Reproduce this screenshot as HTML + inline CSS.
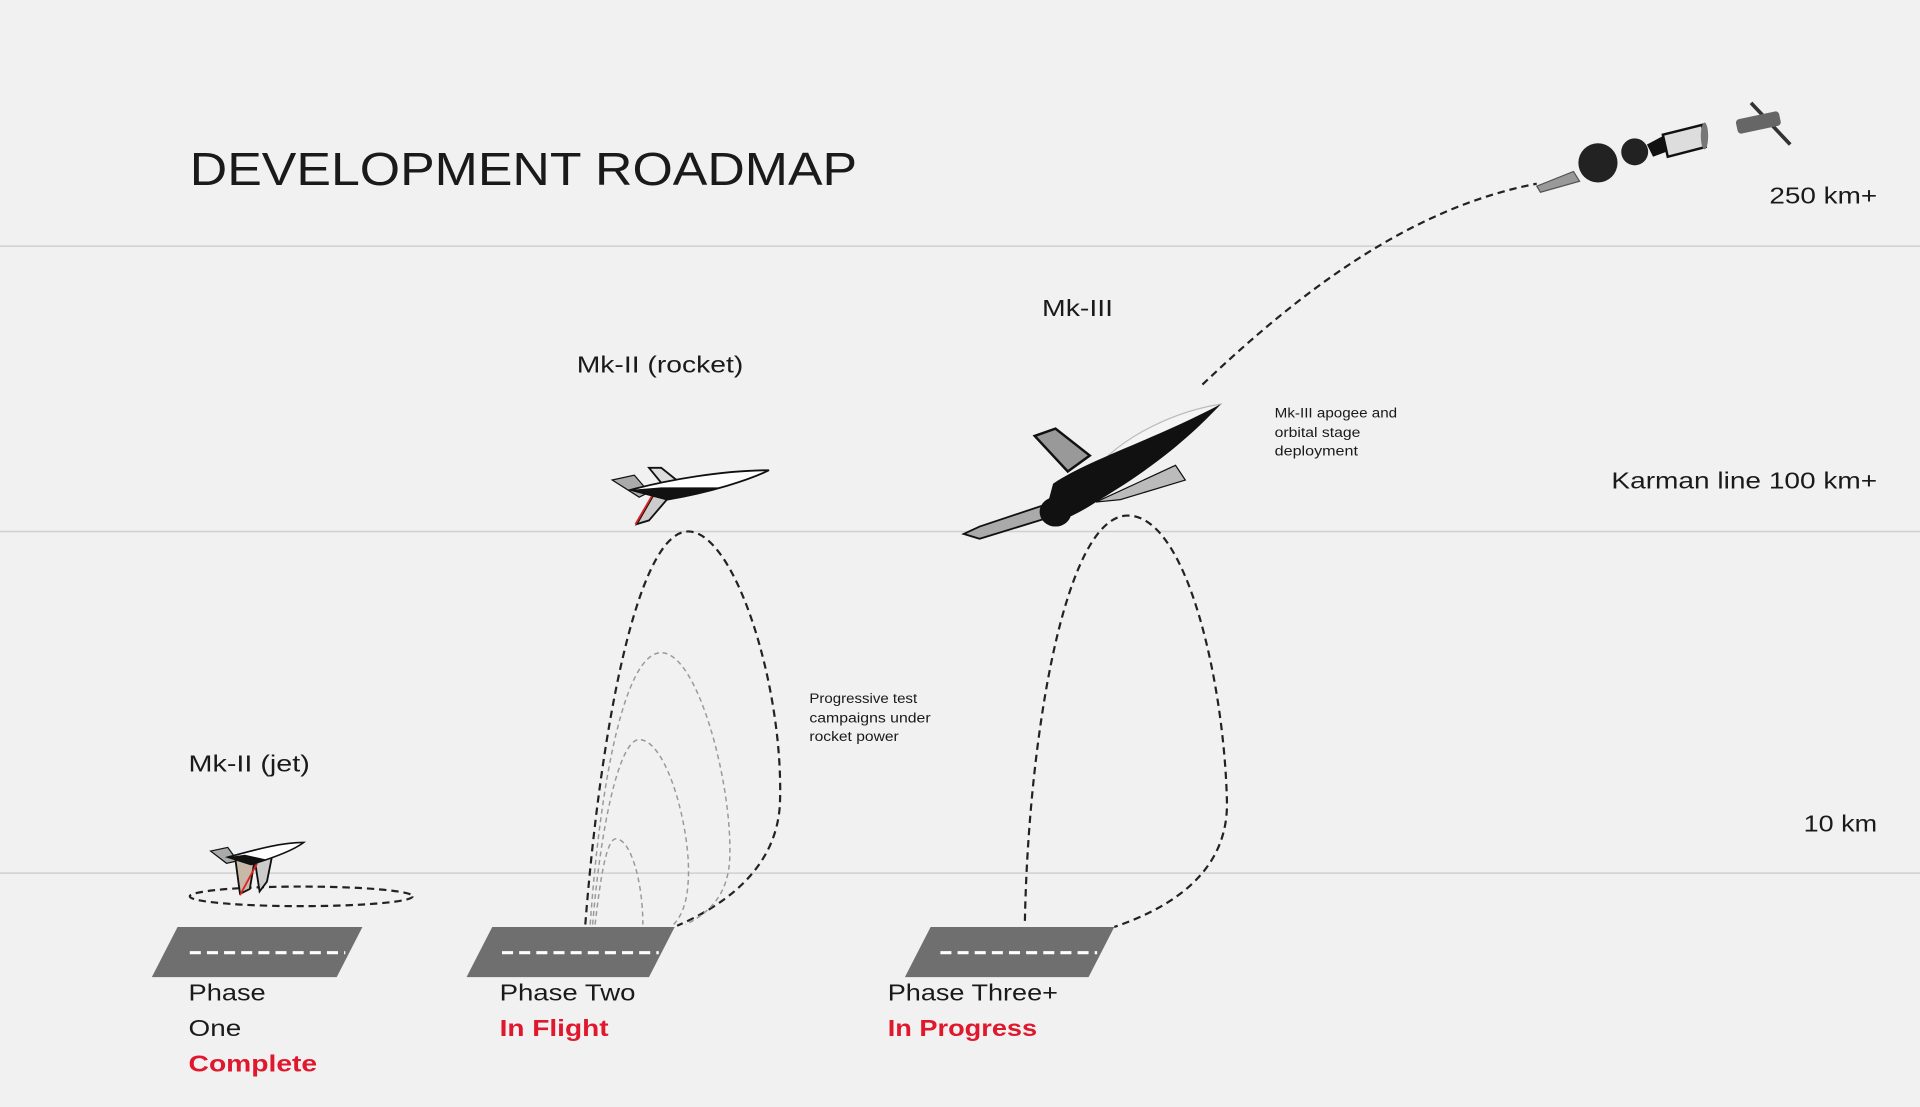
<!DOCTYPE html>
<html><head><meta charset="utf-8"><style>
html,body{margin:0;padding:0;background:#f0f1f0;}
svg{display:block}
text{font-family:"Liberation Sans",sans-serif;fill:#1a1a1a}
</style></head><body>
<svg width="1920" height="1107" viewBox="0 0 1568 904" xmlns="http://www.w3.org/2000/svg">
<rect width="1568" height="904" fill="#f0f1f0"/>
<g stroke="#cfd0cf" stroke-width="1.2">
<line x1="0" y1="201" x2="1568" y2="201"/>
<line x1="0" y1="434" x2="1568" y2="434"/>
<line x1="0" y1="713" x2="1568" y2="713"/>
</g>
<text x="155" y="151" font-size="38" textLength="545" lengthAdjust="spacingAndGlyphs" fill="#111">DEVELOPMENT ROADMAP</text>
<g font-size="19" lengthAdjust="spacingAndGlyphs">
<text x="1445" y="166" textLength="88" lengthAdjust="spacingAndGlyphs">250 km+</text>
<text x="1316" y="399" textLength="217" lengthAdjust="spacingAndGlyphs">Karman line 100 km+</text>
<text x="1473" y="679" textLength="60" lengthAdjust="spacingAndGlyphs">10 km</text>
<text x="851" y="258" textLength="58" lengthAdjust="spacingAndGlyphs">Mk-III</text>
<text x="471" y="304" textLength="136" lengthAdjust="spacingAndGlyphs">Mk-II (rocket)</text>
<text x="154" y="630" textLength="99" lengthAdjust="spacingAndGlyphs">Mk-II (jet)</text>
</g>
<g font-size="11">
<text x="1041" y="341" textLength="100" lengthAdjust="spacingAndGlyphs">Mk-III apogee and</text>
<text x="1041" y="357" textLength="70" lengthAdjust="spacingAndGlyphs">orbital stage</text>
<text x="1041" y="372" textLength="68" lengthAdjust="spacingAndGlyphs">deployment</text>
<text x="661" y="574" textLength="88" lengthAdjust="spacingAndGlyphs">Progressive test</text>
<text x="661" y="590" textLength="99" lengthAdjust="spacingAndGlyphs">campaigns under</text>
<text x="661" y="605" textLength="73" lengthAdjust="spacingAndGlyphs">rocket power</text>
</g>
<g fill="#6f6f6f">
<polygon points="145,757 296,757 275,798 124,798"/>
<polygon points="402,757 551,757 530,798 381,798"/>
<polygon points="760,757 910,757 889,798 739,798"/>
</g>
<g stroke="#fff" stroke-width="2.5" stroke-dasharray="9,5">
<line x1="155" y1="778" x2="282" y2="778"/>
<line x1="410" y1="778" x2="538" y2="778"/>
<line x1="768" y1="778" x2="896" y2="778"/>
</g>
<g font-size="19">
<text x="154" y="817" textLength="63" lengthAdjust="spacingAndGlyphs">Phase</text>
<text x="154" y="846" textLength="43" lengthAdjust="spacingAndGlyphs">One</text>
<text x="154" y="875" font-weight="bold" style="fill:#e0182d" textLength="105" lengthAdjust="spacingAndGlyphs">Complete</text>
<text x="408" y="817" textLength="111" lengthAdjust="spacingAndGlyphs">Phase Two</text>
<text x="408" y="846" font-weight="bold" style="fill:#e0182d" textLength="89" lengthAdjust="spacingAndGlyphs">In Flight</text>
<text x="725" y="817" textLength="139" lengthAdjust="spacingAndGlyphs">Phase Three+</text>
<text x="725" y="846" font-weight="bold" style="fill:#e0182d" textLength="122" lengthAdjust="spacingAndGlyphs">In Progress</text>
</g>
<g fill="none" stroke="#222" stroke-width="1.8" stroke-dasharray="6,4">
<ellipse cx="246" cy="732" rx="91" ry="8"/>
<path d="M478,755 C490,600 520,434 562,434 C600,434 640,560 637,655 C635,710 590,740 553,756"/>
<path d="M837,752 C840,600 870,421 921,421 C970,421 1000,560 1002,655 C1003,710 960,740 910,757"/>
<path d="M982,314 C1060,240 1150,170 1255,150"/>
</g>
<g fill="none" stroke="#999" stroke-width="1.2" stroke-dasharray="4,3">
<path d="M482,755 C490,640 510,533 540,533 C570,533 598,640 596,700 C595,730 580,745 560,755"/>
<path d="M484,755 C490,680 505,604 522,604 C545,604 565,680 562,720 C561,740 555,750 550,755"/>
<path d="M486,755 C490,720 495,685 503,685 C515,685 525,720 525,755"/>
</g>
<g>
<polygon points="500,392 518,388 530,402 522,406" fill="#aaa" stroke="#111" stroke-width="1"/>
<polygon points="530,382 540,382 560,398 548,404" fill="#ddd" stroke="#111" stroke-width="1.5"/>
<polygon points="548,404 530,425 520,428 535,402" fill="#ccc" stroke="#111" stroke-width="1.5"/>
<line x1="519" y1="428" x2="533" y2="404" stroke="#d22" stroke-width="1.5"/>
<path d="M515,400 C545,392 590,384 628,384 C612,392 580,402 545,408 Z" fill="#fff" stroke="#111" stroke-width="1.5"/>
<path d="M515,400 L545,408 C560,405 575,402 590,398 L540,398 Z" fill="#111"/>
</g>
<g>
<polygon points="172,695 186,692 194,703 185,705" fill="#aaa" stroke="#111" stroke-width="1"/>
<polygon points="192,700 208,702 204,726 196,730" fill="#c8b8a8" stroke="#111" stroke-width="1.5"/>
<polygon points="208,702 222,700 218,720 212,728" fill="#ccc" stroke="#111" stroke-width="1.5"/>
<line x1="196" y1="731" x2="210" y2="705" stroke="#d22" stroke-width="1.5"/>
<path d="M186,700 C205,695 228,688 248,688 C240,694 225,700 205,706 Z" fill="#fff" stroke="#111" stroke-width="1.3"/>
<path d="M186,700 L205,706 L218,702 L200,698 Z" fill="#111"/>
</g>
<g>
<polygon points="845,356 862,350 890,372 872,385" fill="#999" stroke="#111" stroke-width="2"/>
<polygon points="787,436 800,430 860,410 865,420 800,440" fill="#aaa" stroke="#111" stroke-width="1.5"/>
<path d="M905,372 C930,350 965,335 997,330 C975,350 945,370 915,385 Z" fill="#f4f4f4" stroke="#bbb" stroke-width="1"/>
<path d="M860,395 C890,375 940,360 997,330 C960,370 920,395 895,410 C880,420 860,430 852,425 Z" fill="#111"/>
<polygon points="895,410 960,380 968,392 915,408" fill="#bbb" stroke="#111" stroke-width="1"/>
<ellipse cx="862" cy="418" rx="13" ry="12" fill="#111"/>
</g>
<g>
<polygon points="1255,152 1285,140 1290,148 1258,157" fill="#999" stroke="#555"/>
<circle cx="1305" cy="133" r="16" fill="#222"/>
<circle cx="1335" cy="124" r="11" fill="#222"/>
<polygon points="1345,118 1360,110 1366,122 1350,128" fill="#111"/>
<polygon points="1358,110 1390,102 1393,120 1362,128" fill="#ddd" stroke="#111" stroke-width="2"/>
<ellipse cx="1392" cy="111" rx="3" ry="11" fill="#777"/>
</g>
<g>
<line x1="1430" y1="84" x2="1462" y2="118" stroke="#333" stroke-width="3"/>
<rect x="1418" y="94" width="36" height="12" rx="3" fill="#666" transform="rotate(-12 1436 100)"/>
</g>
</svg>
</body></html>
